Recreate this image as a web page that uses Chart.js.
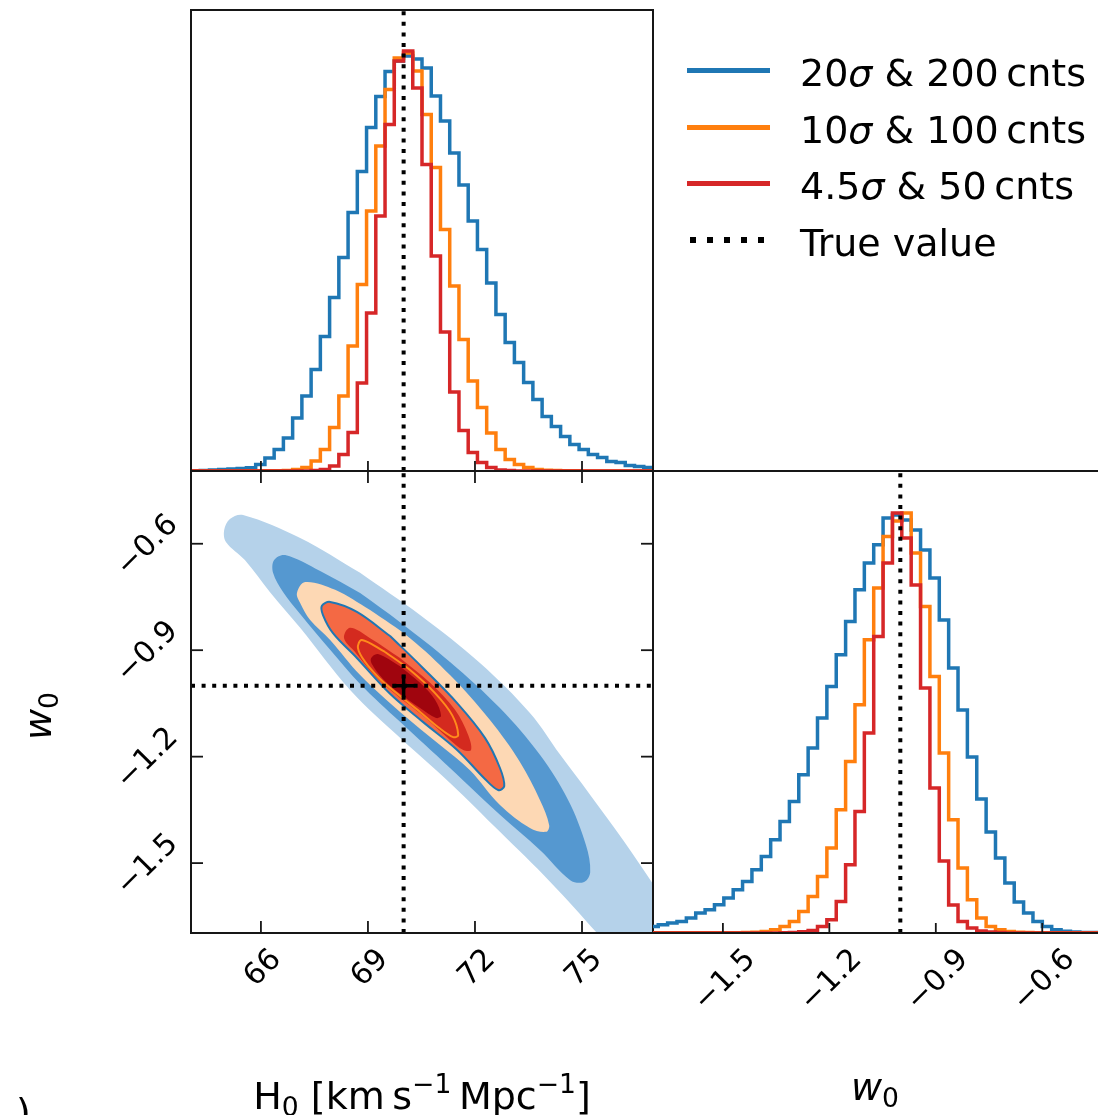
<!DOCTYPE html>
<html><head><meta charset="utf-8">
<script src="https://cdn.jsdelivr.net/npm/chart.js@4.4.1/dist/chart.umd.min.js"></script>
<style>
html,body{margin:0;padding:0;width:1098px;height:1115px;overflow:hidden;background:#fff;}
#wrap{position:relative;width:1098px;height:1115px;overflow:hidden;font-family:"DejaVu Sans",sans-serif;color:#000;}
canvas{position:absolute;left:0;top:0;}
.t{position:absolute;white-space:nowrap;font-size:38px;line-height:1;}
.t sub{font-size:70%;vertical-align:-0.28em;line-height:0;}
.t sup{font-size:70%;vertical-align:0.62em;line-height:0;}
.sw{position:absolute;height:5px;}
</style></head>
<body><div id="wrap">
<canvas id="cTL" width="1120" height="1115"></canvas>
<canvas id="cBL" width="1120" height="1115"></canvas>
<canvas id="cBR" width="1120" height="1115"></canvas>
<div class="t" style="left:422px;top:1077px;transform:translateX(-50%);">H<sub>0</sub> [km&#8201;s<sup>&#8722;1</sup>&#8201;Mpc<sup>&#8722;1</sup>]</div>
<div class="t" style="left:875px;top:1068px;transform:translateX(-50%);"><i>w</i><sub>0</sub></div>
<div class="t" style="left:38px;top:716px;transform:translate(-50%,-50%) rotate(-90deg);"><i>w</i><sub>0</sub></div>
<div class="t" style="left:16px;top:1093px;">)</div>
<div id="legend"></div>
</div>
<script>
// ---------------- data ----------------
const seriesLabels = ['20σ & 200 cnts', '10σ & 100 cnts', '4.5σ & 50 cnts'];
const trueLabel = 'True value';
const seriesColors = ['#1f77b4', '#ff7f0e', '#d62728'];

const trueH0 = 70.0;
const trueW0 = -1.0;

const h0Range = [64.04, 76.99];
const w0Range = [-1.697, -0.395];

const h0Ticks = [66, 69, 72, 75];
const h0TickLabels = ['66', '69', '72', '75'];
const w0Ticks = [-1.5, -1.2, -0.9, -0.6];
const w0TickLabels = ['\u22121.5', '\u22121.2', '\u22120.9', '\u22120.6'];

// 1D marginal histograms (50 bins each, arbitrary units)
const h0BinStart = 64.04, h0BinWidth = 0.259;
const h0Blue = [0.3,0.6,1,1.5,2,2.6,3.2,6.5,13,21.5,33,53,75,101.5,134.5,173.5,213.5,258.5,299.5,343.5,374.5,399.5,410,415,412,403,375,350,318,286,250,221.5,188,156.5,128.5,108.5,88.5,71.5,54.5,44.5,34.5,26.5,21.5,16.5,13.5,9.5,8.5,5.5,4.5,3.5];
const h0Orange = [0.1,0.1,0.1,0.1,0.1,0.1,0.2,0.2,0.3,0.3,0.5,1.5,3.5,10,21.5,43.5,75,125,186.5,260,325,381.5,413,418,400,356.5,303.5,241.5,185,131.5,90,63.5,38,21.5,11.5,6.5,3.5,1.5,0.8,0.4,0.2,0.2,0.1,0.1,0.1,0.1,0.1,0.1,0.1,0.1];
const h0Red = [0.1,0.1,0.1,0.1,0.1,0.1,0.1,0.1,0.1,0.1,0.1,0.1,0.1,0.5,1.5,5,16.5,38.5,88,158,255,346.5,410,420,383,306.5,215,139,79,40.5,18.5,8.5,3.5,1,0.5,0.1,0.1,0.1,0.1,0.1,0.1,0.1,0.1,0.1,0.1,0.1,0.1,0.1,0.1,0.1];
const h0HistMax = 461;

const w0BinStart = -1.7086, w0BinWidth = 0.0264;
const w0Blue = [6.6,8.3,10,11.6,15,20,23.3,28.3,35,43.3,51.6,63.3,76.6,93.3,111.6,131.6,158.3,185,215,246.6,278.3,311.6,343.3,370,388.3,415,418,413,403,383,355,313,265,223,176,134,101,75,50,31,20,11.6,6.6,3.3,1.7,1,0.6,0.4,0.3,0.2];
const w0Orange = [0.2,0.2,0.2,0.2,0.2,0.2,0.2,0.2,0.2,0.2,0.4,0.8,1.6,3.3,6.6,11.6,21.6,36.6,56.6,85,123.3,171.6,228.3,293.3,345,396.6,412,420,380,326.6,256.6,180,113.3,65,33.3,15,6.6,3.3,1.5,0.8,0.4,0.2,0.2,0.2,0.2,0.2,0.2,0.2,0.2,0.2];
const w0Red = [0.1,0.1,0.1,0.1,0.1,0.1,0.1,0.1,0.1,0.1,0.1,0.1,0.1,0.1,0.3,0.5,1.2,2.6,6.6,13.3,31.6,68.3,121.6,200,296.6,370,420,395,348,245,145,72,28,11.6,5,2,1,0.5,0.1,0.1,0.1,0.1,0.1,0.1,0.1,0.1,0.1,0.1,0.1,0.1];
const w0HistMax = 462;

// 2D credible-region outlines [H0, w0]
const blueOuter = [[68.78,-0.682],[70.46,-0.801],[72.14,-0.936],[73.54,-1.077],[74.39,-1.195],[75.23,-1.308],[76.15,-1.435],[77.19,-1.590],[78.31,-1.773],[76.07,-1.773],[75.42,-1.697],[74.11,-1.553],[72.70,-1.412],[71.30,-1.274],[69.90,-1.147],[68.50,-1.012],[67.10,-0.837],[66.25,-0.736],[65.55,-0.646],[65.02,-0.595],[64.97,-0.561],[65.13,-0.530],[65.50,-0.519],[67.10,-0.584],[68.78,-0.682]];
const blueInner = [[68.78,-0.739],[69.90,-0.821],[71.30,-0.933],[72.70,-1.063],[73.82,-1.195],[74.61,-1.322],[75.11,-1.449],[75.23,-1.525],[75.06,-1.553],[74.67,-1.548],[73.82,-1.463],[72.70,-1.364],[71.30,-1.232],[69.90,-1.102],[68.78,-0.995],[67.94,-0.899],[67.10,-0.798],[66.62,-0.736],[66.34,-0.682],[66.37,-0.646],[66.68,-0.632],[67.66,-0.677],[68.78,-0.739]];
const orangeOuter = [[69.06,-0.787],[70.18,-0.866],[71.30,-0.970],[72.42,-1.097],[73.26,-1.215],[73.82,-1.322],[74.08,-1.393],[73.99,-1.412],[73.54,-1.401],[72.70,-1.336],[71.86,-1.238],[71.02,-1.167],[69.90,-1.074],[68.78,-0.970],[67.94,-0.871],[67.38,-0.815],[67.10,-0.767],[67.01,-0.739],[67.24,-0.708],[68.08,-0.730],[69.06,-0.787]];
const blueLine = [[69.62,-0.860],[70.54,-0.950],[71.50,-1.049],[72.28,-1.147],[72.70,-1.232],[72.82,-1.283],[72.65,-1.294],[72.28,-1.263],[71.50,-1.181],[70.54,-1.102],[69.62,-1.023],[68.69,-0.922],[68.02,-0.852],[67.74,-0.801],[67.71,-0.775],[67.94,-0.764],[68.69,-0.792],[69.62,-0.860]];
const redOuter = [[69.90,-0.922],[70.74,-0.992],[71.44,-1.068],[71.81,-1.139],[71.89,-1.181],[71.67,-1.181],[71.30,-1.153],[70.54,-1.085],[69.90,-1.035],[69.20,-0.973],[68.64,-0.905],[68.33,-0.866],[68.50,-0.837],[69.06,-0.866],[69.90,-0.922]];
const orangeLine = [[69.48,-0.905],[70.18,-0.956],[70.88,-1.021],[71.36,-1.083],[71.53,-1.139],[71.39,-1.145],[70.97,-1.117],[70.46,-1.074],[69.90,-1.029],[69.34,-0.981],[68.92,-0.933],[68.72,-0.894],[68.83,-0.871],[69.48,-0.905]];
const redInner = [[69.90,-0.945],[70.46,-0.992],[70.88,-1.040],[71.05,-1.085],[70.91,-1.091],[70.46,-1.063],[69.90,-1.023],[69.42,-0.981],[69.11,-0.939],[69.09,-0.922],[69.28,-0.911],[69.90,-0.945]];

// ---------------- layout ----------------
const CW = 1120, CH = 1115;
const FONT = '"DejaVu Sans", sans-serif';
const panels = {
  TL: {l:191, t:10, r:653, b:471},
  BL: {l:191, t:471, r:653, b:933},
  BR: {l:653, t:471, r:1115, b:933}
};
function padOf(p){ return {left:p.l, top:p.t, right:CW-p.r, bottom:CH-p.b}; }

function stepPoints(start, width, counts){
  const pts = counts.map((c,i)=>({x:start+i*width, y:c}));
  pts.push({x:start+counts.length*width, y:counts[counts.length-1]});
  return pts;
}
function stepDs(start, width, counts, color, order){
  return {data:stepPoints(start,width,counts), borderColor:color, borderWidth:3.5, stepped:'before',
          fill:false, pointRadius:0, order:order, borderJoinStyle:'miter', borderCapStyle:'butt'};
}
function dotted(pts, order){
  return {data:pts, borderColor:'#000', borderWidth:4, borderDash:[4,6.6], borderCapStyle:'butt',
          fill:false, pointRadius:0, order:order, clip:0};
}
function region(pts, bg, order, border, bw){
  return {data:pts.map(p=>({x:p[0],y:p[1]})), fill:'shape', backgroundColor:bg,
          borderColor:border||'rgba(0,0,0,0)', borderWidth:bw||0, pointRadius:0, tension:0.35,
          order:order, clip:0};
}
function outline(pts, color, order){
  return {data:pts.map(p=>({x:p[0],y:p[1]})), fill:false, borderColor:color, borderWidth:2,
          pointRadius:0, tension:0.35, order:order, clip:0};
}

function makePanel(cfg){
  return {
    id:'panel'+cfg.id,
    afterDraw(chart){
      const {ctx, chartArea:a, scales} = chart;
      ctx.save();
      ctx.strokeStyle = '#161616';
      ctx.lineWidth = 2;
      ctx.lineCap = 'square';
      const seg = {
        left:[a.left,a.top,a.left,a.bottom], right:[a.right,a.top,a.right,a.bottom],
        top:[a.left,a.top,a.right,a.top], bottom:[a.left,a.bottom,a.right,a.bottom]
      };
      cfg.frame.forEach(s=>{const q=seg[s]; ctx.beginPath(); ctx.moveTo(q[0],q[1]); ctx.lineTo(q[2],q[3]); ctx.stroke();});
      ctx.lineWidth = 1.8; ctx.lineCap = 'butt';
      cfg.ticks.forEach(t=>{
        const sc = scales[t.axis];
        t.values.forEach(v=>{
          const p = sc.getPixelForValue(v);
          ctx.beginPath();
          if(t.side==='bottom'){ctx.moveTo(p,a.bottom);ctx.lineTo(p,a.bottom-t.len);}
          if(t.side==='top'){ctx.moveTo(p,a.top);ctx.lineTo(p,a.top+t.len);}
          if(t.side==='left'){ctx.moveTo(a.left,p);ctx.lineTo(a.left+t.len,p);}
          if(t.side==='right'){ctx.moveTo(a.right,p);ctx.lineTo(a.right-t.len,p);}
          ctx.stroke();
        });
      });
      const fs = 30;
      ctx.fillStyle = '#000';
      ctx.font = fs+'px '+FONT;
      ctx.textAlign = 'center';
      ctx.textBaseline = 'alphabetic';
      cfg.labels.forEach(l=>{
        const sc = scales[l.axis];
        l.values.forEach((v,i)=>{
          const txt = l.text[i];
          const p = sc.getPixelForValue(v);
          const w = ctx.measureText(txt).width;
          const d = (w + 0.73*fs)*Math.SQRT1_2;
          let cx, cy;
          if(l.side==='bottom'){cx=p; cy=a.bottom+12+d/2;}
          else {cx=a.left-12-d/2; cy=p;}
          ctx.save();
          ctx.translate(cx,cy);
          ctx.rotate(-Math.PI/4);
          ctx.fillText(txt,0,0.365*fs);
          ctx.restore();
        });
      });
      ctx.restore();
    }
  };
}

function baseOptions(p, xr, yr){
  return {
    responsive:false, animation:false, events:[], devicePixelRatio:1,
    layout:{padding:padOf(p), autoPadding:false},
    plugins:{legend:{display:false}, tooltip:{enabled:false}},
    scales:{
      x:{type:'linear', min:xr[0], max:xr[1], display:false},
      y:{type:'linear', min:yr[0], max:yr[1], display:false}
    }
  };
}

// ---- top-left: H0 marginal ----
new Chart(document.getElementById('cTL'), {
  type:'line',
  data:{datasets:[
    dotted([{x:trueH0,y:0},{x:trueH0,y:h0HistMax}], 0),
    stepDs(h0BinStart,h0BinWidth,h0Red,seriesColors[2],1),
    stepDs(h0BinStart,h0BinWidth,h0Orange,seriesColors[1],2),
    stepDs(h0BinStart,h0BinWidth,h0Blue,seriesColors[0],3)
  ]},
  options:baseOptions(panels.TL, h0Range, [0,h0HistMax]),
  plugins:[makePanel({id:'TL', frame:['left','top','right','bottom'],
    ticks:[{axis:'x',side:'bottom',values:h0Ticks,len:10}], labels:[]})]
});

// ---- bottom-left: H0 vs w0 ----
new Chart(document.getElementById('cBL'), {
  type:'line',
  data:{datasets:[
    {data:[{x:trueH0,y:trueW0}], showLine:false, pointStyle:'cross', pointRadius:11,
     pointBorderWidth:3.5, pointBorderColor:'#000', pointBackgroundColor:'#000', order:0, clip:false},
    dotted([{x:h0Range[0],y:trueW0},{x:h0Range[1],y:trueW0}], 1),
    dotted([{x:trueH0,y:w0Range[0]},{x:trueH0,y:w0Range[1]}], 1),
    outline(orangeLine, '#ff8a1c', 3),
    region(redInner, '#a0050e', 4),
    region(redOuter, '#d42a1f', 5),
    region(blueLine, '#f46944', 6, '#1f77b4', 2),
    region(orangeOuter, '#fdd8b4', 7),
    region(blueInner, '#5598d0', 8),
    region(blueOuter, '#b5d2ea', 9)
  ]},
  options:baseOptions(panels.BL, h0Range, w0Range),
  plugins:[makePanel({id:'BL', frame:['left','top','right','bottom'],
    ticks:[{axis:'x',side:'bottom',values:h0Ticks,len:12},{axis:'x',side:'top',values:h0Ticks,len:12},
           {axis:'y',side:'left',values:w0Ticks,len:12},{axis:'y',side:'right',values:w0Ticks,len:12}],
    labels:[{axis:'x',side:'bottom',values:h0Ticks,text:h0TickLabels},
            {axis:'y',side:'left',values:w0Ticks,text:w0TickLabels}]})]
});

// ---- bottom-right: w0 marginal ----
new Chart(document.getElementById('cBR'), {
  type:'line',
  data:{datasets:[
    dotted([{x:trueW0,y:0},{x:trueW0,y:w0HistMax}], 0),
    stepDs(w0BinStart,w0BinWidth,w0Red,seriesColors[2],1),
    stepDs(w0BinStart,w0BinWidth,w0Orange,seriesColors[1],2),
    stepDs(w0BinStart,w0BinWidth,w0Blue,seriesColors[0],3)
  ]},
  options:baseOptions(panels.BR, w0Range, [0,w0HistMax]),
  plugins:[makePanel({id:'BR', frame:['top','bottom','right'],
    ticks:[{axis:'x',side:'bottom',values:w0Ticks,len:10}],
    labels:[{axis:'x',side:'bottom',values:w0Ticks,text:w0TickLabels}]})]
});

// ---- legend (HTML) ----
const legendRowsY = [70,127,183,240];
const lg = document.getElementById('legend');
let html = '';
seriesLabels.forEach((lab,i)=>{
  const y = legendRowsY[i];
  const txt = lab.replace('σ','<i>σ</i>').replace('&','&amp;').replace(' cnts','&#8201;cnts');
  html += '<div class="sw" style="left:687px;width:83px;top:'+(y-2.5)+'px;background:'+seriesColors[i]+'"></div>';
  html += '<div class="t" style="left:800px;top:'+(y-16)+'px;">'+txt+'</div>';
});
const yT = legendRowsY[3];
html += '<div class="sw" style="left:690px;width:74px;height:6px;top:'+(yT-3)+'px;background:repeating-linear-gradient(90deg,#000 0 6px,transparent 6px 17px)"></div>';
html += '<div class="t" style="left:800px;top:'+(yT-16)+'px;">'+trueLabel+'</div>';
lg.innerHTML = html;
</script>
</body></html>
